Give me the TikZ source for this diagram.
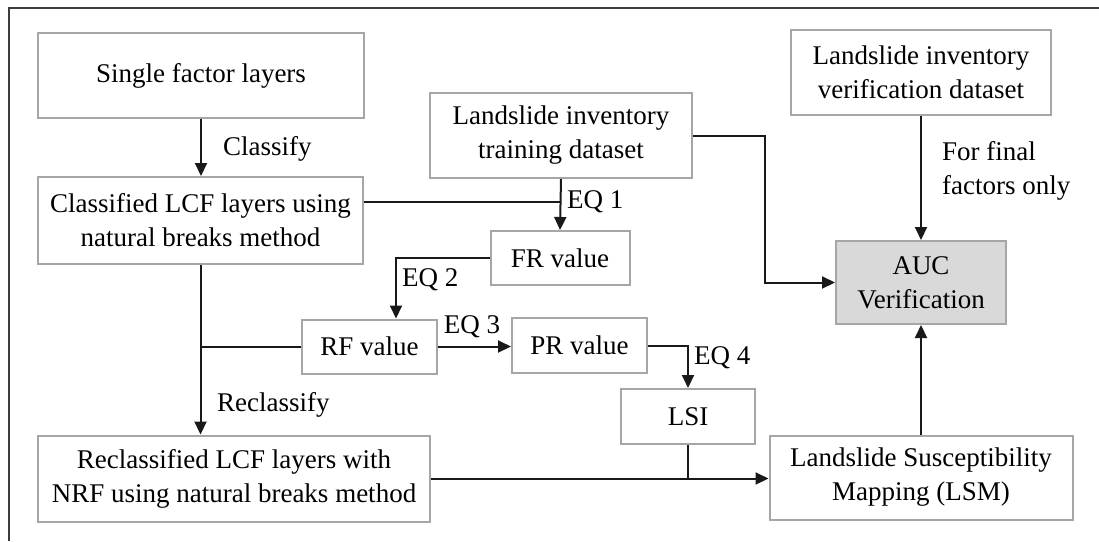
\documentclass[tikz,border=0pt]{standalone}
\usepackage{fontspec}
\setmainfont{Liberation Serif}
\usetikzlibrary{arrows.meta}
\definecolor{boxline}{RGB}{166,166,166}
\definecolor{aucfill}{RGB}{217,217,217}
\definecolor{frameline}{RGB}{60,60,60}
\definecolor{linkline}{RGB}{25,25,25}
\tikzset{
  stepbox/.style={draw=boxline, line width=2pt, fill=white, inner sep=0pt,
    align=center, font=\fontsize{27}{34}\selectfont},
  lbl/.style={inner sep=0pt, align=left, font=\fontsize{27}{34}\selectfont},
  link/.style={draw=linkline, line width=2pt},
  arr/.style={link, -{Triangle[length=13pt,width=12pt]}}
}
\begin{document}
\begin{tikzpicture}[x=1pt, y=-1pt]
\useasboundingbox (0,0) rectangle (1099,541);
% outer frame (top and left edges)
\draw[frameline, line width=2pt] (1099,7.5) -- (8.5,7.5) -- (8.5,541);

% boxes
\node[stepbox, minimum width=326pt, minimum height=85pt] (sfl) at (201,75.5) {Single factor layers};
\node[stepbox, minimum width=325pt, minimum height=87pt] (lcf) at (200.5,220.5) {Classified LCF layers using\\natural breaks method};
\node[stepbox, minimum width=262pt, minimum height=85pt] (train) at (561,135.5) {Landslide inventory\\training dataset};
\node[stepbox, minimum width=260pt, minimum height=85pt] (verif) at (921,72.5) {Landslide inventory\\verification dataset};
\node[stepbox, fill=aucfill, minimum width=170pt, minimum height=83pt] (auc) at (921,282.5) {AUC\\Verification};
\node[stepbox, minimum width=139pt, minimum height=54pt] (fr) at (560,258) {FR value};
\node[stepbox, minimum width=135pt, minimum height=54pt] (rf) at (369.5,346.5) {RF value};
\node[stepbox, minimum width=135pt, minimum height=55pt] (pr) at (579.5,345.5) {PR value};
\node[stepbox, minimum width=134pt, minimum height=55pt] (lsi) at (688,416.5) {LSI};
\node[stepbox, minimum width=392pt, minimum height=86pt] (rlcf) at (234,478.5) {Reclassified LCF layers with\\NRF using natural breaks method};
\node[stepbox, minimum width=303pt, minimum height=84pt] (lsm) at (921,477.5) {Landslide Susceptibility\\Mapping (LSM)};

% helper points for bends and junctions
\coordinate (j1) at (560,201.5);
\coordinate (e2) at (396,258);
\coordinate (t1) at (765,0);

% connectors
\draw[arr] (sfl.south) -- (sfl.south |- lcf.north);
\draw[link] (lcf.east |- j1) -- (j1);
\draw[arr] (train.south) -- (fr.north);
\draw[arr] (fr.west) -- (e2) -- (e2 |- rf.north);
\draw[arr] (lcf.south) -- (lcf.south |- rlcf.north);
\draw[link] (rf.west) -- (rf.west -| lcf.south);
\draw[arr] (rf.east) -- (rf.east -| pr.west);
\draw[arr] (pr.east) -| (lsi.north);
\draw[arr] (rlcf.east) -- (rlcf.east -| lsm.west);
\draw[link] (lsi.south) -- (lsi.south |- rlcf.east);
\draw[arr] (lsm.north) -- (auc.south);
\draw[arr] (verif.south) -- (auc.north);
\draw[arr] (train.east) -- (train.east -| t1) -- (t1 |- auc.west) -- (auc.west);

% connector labels
\node[lbl, anchor=west] (lclass) at (223,149) {Classify};
\node[lbl, anchor=west] (leq1) at (567,202) {EQ 1};
\node[lbl, anchor=west] (leq2) at (402,280) {EQ 2};
\node[lbl] (leq3) at (472,327) {EQ 3};
\node[lbl, anchor=west] (leq4) at (694,358) {EQ 4};
\node[lbl, anchor=west] (lrecl) at (217,405) {Reclassify};
\node[lbl, anchor=west] (lfinal) at (942,171) {For final\\factors only};
\end{tikzpicture}
\end{document}
